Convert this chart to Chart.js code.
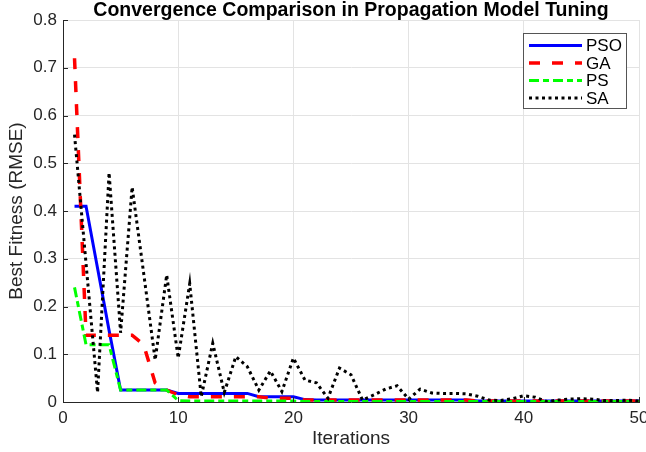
<!DOCTYPE html>
<html>
<head>
<meta charset="utf-8">
<title>Convergence Comparison</title>
<script src="https://cdn.jsdelivr.net/npm/chart.js@4.4.1/dist/chart.umd.min.js"></script>
<style>
  html, body { margin: 0; padding: 0; background: #fff; overflow: hidden; }
  #wrap { width: 660px; height: 452px; }
</style>
</head>
<body>
<div id="wrap"><canvas id="convChart" width="660" height="452"></canvas></div>
<script>
// iteration index (x axis)
const iterations = [
  1, 2, 3, 4, 5, 6, 7, 8, 9, 10,
  11, 12, 13, 14, 15, 16, 17, 18, 19, 20,
  21, 22, 23, 24, 25, 26, 27, 28, 29, 30,
  31, 32, 33, 34, 35, 36, 37, 38, 39, 40,
  41, 42, 43, 44, 45, 46, 47, 48, 49, 50
];

// best RMSE per iteration for each optimiser
const psoFitness = [
  0.41, 0.41, 0.28, 0.15, 0.025, 0.025, 0.025, 0.025, 0.025, 0.018,
  0.018, 0.018, 0.018, 0.018, 0.018, 0.018, 0.011, 0.011, 0.011, 0.011,
  0.005, 0.004, 0.004, 0.004, 0.004, 0.004, 0.004, 0.004, 0.004, 0.004,
  0.004, 0.004, 0.004, 0.004, 0.004, 0.002, 0.002, 0.002, 0.002, 0.002,
  0.002, 0.002, 0.002, 0.002, 0.002, 0.002, 0.002, 0.002, 0.002, 0.002
];
const gaFitness = [
  0.72, 0.14, 0.14, 0.14, 0.14, 0.14, 0.12, 0.04, 0.025, 0.015,
  0.011, 0.011, 0.011, 0.011, 0.011, 0.011, 0.011, 0.008, 0.008, 0.008,
  0.004, 0.004, 0.004, 0.004, 0.004, 0.004, 0.004, 0.004, 0.004, 0.004,
  0.004, 0.004, 0.004, 0.004, 0.004, 0.002, 0.002, 0.002, 0.002, 0.002,
  0.002, 0.002, 0.002, 0.002, 0.002, 0.002, 0.002, 0.002, 0.002, 0.002
];
const psFitness = [
  0.24, 0.12, 0.12, 0.12, 0.025, 0.025, 0.025, 0.025, 0.025, 0.003,
  0.002, 0.002, 0.002, 0.002, 0.002, 0.002, 0.002, 0.002, 0.002, 0.002,
  0.001, 0.001, 0.001, 0.001, 0.001, 0.001, 0.001, 0.001, 0.001, 0.001,
  0.001, 0.001, 0.001, 0.001, 0.001, 0.001, 0.001, 0.001, 0.001, 0.001,
  0.001, 0.001, 0.001, 0.001, 0.001, 0.001, 0.001, 0.001, 0.001, 0.001
];
const saFitness = [
  0.56, 0.29, 0.02, 0.48, 0.145, 0.45, 0.27, 0.088, 0.266, 0.092,
  0.248, 0.011, 0.123, 0.02, 0.095, 0.074, 0.025, 0.065, 0.022, 0.092,
  0.046, 0.04, 0.008, 0.071, 0.057, 0.004, 0.015, 0.027, 0.034, 0.006,
  0.027, 0.019, 0.018, 0.018, 0.017, 0.012, 0.004, 0.003, 0.007, 0.013,
  0.01, 0.001, 0.004, 0.006, 0.007, 0.006, 0.003, 0.003, 0.004, 0.002
];

const xTicks = [0, 10, 20, 30, 40, 50];
const yTicks = [0, 0.1, 0.2, 0.3, 0.4, 0.5, 0.6, 0.7, 0.8];
const chartTitle = 'Convergence Comparison in Propagation Model Tuning';

const FONT = '"Liberation Sans", Arial, Helvetica, sans-serif';

function toPoints(values) {
  return values.map((v, i) => ({ x: iterations[i], y: v }));
}

// title centred over the plot area rather than the whole canvas
const areaTitle = {
  id: 'areaTitle',
  afterDraw(chart) {
    const ctx = chart.ctx;
    const area = chart.chartArea;
    ctx.save();
    ctx.font = 'bold 19.5px ' + FONT;
    ctx.fillStyle = '#000';
    ctx.textAlign = 'center';
    ctx.textBaseline = 'middle';
    ctx.fillText(chartTitle, (area.left + area.right) / 2, area.top - 9);
    ctx.restore();
  }
};

// MATLAB-style legend box inside the top right corner
const boxLegend = {
  id: 'boxLegend',
  afterDraw(chart) {
    const ctx = chart.ctx;
    const area = chart.chartArea;
    const w = 103, h = 75;
    const x0 = area.right - 116, y0 = area.top + 13;
    ctx.save();
    ctx.fillStyle = '#fff';
    ctx.fillRect(x0, y0, w, h);
    ctx.strokeStyle = '#555';
    ctx.lineWidth = 1;
    ctx.setLineDash([]);
    ctx.strokeRect(x0 + 0.5, y0 + 0.5, w, h);
    ctx.font = '17px ' + FONT;
    ctx.textBaseline = 'middle';
    chart.data.datasets.forEach((ds, i) => {
      const y = y0 + 12.5 + i * 17.5;
      ctx.strokeStyle = ds.borderColor;
      ctx.lineWidth = ds.borderWidth;
      ctx.lineCap = 'butt';
      ctx.setLineDash(ds.borderDash || []);
      ctx.beginPath();
      ctx.moveTo(x0 + 6, y);
      ctx.lineTo(x0 + 59, y);
      ctx.stroke();
      ctx.setLineDash([]);
      ctx.fillStyle = '#000';
      ctx.fillText(ds.label, x0 + 63, y + 1);
    });
    ctx.restore();
  }
};

// short inward tick marks on the left and bottom axes
const innerTicks = {
  id: 'innerTicks',
  afterDraw(chart) {
    const ctx = chart.ctx;
    const area = chart.chartArea;
    const xs = chart.scales.x, ys = chart.scales.y;
    ctx.save();
    ctx.strokeStyle = '#262626';
    ctx.lineWidth = 1;
    ctx.beginPath();
    yTicks.forEach(v => {
      const py = Math.round(ys.getPixelForValue(v)) + 0.5;
      ctx.moveTo(area.left, py);
      ctx.lineTo(area.left + 5, py);
    });
    xTicks.forEach(v => {
      const px = Math.round(xs.getPixelForValue(v)) + 0.5;
      ctx.moveTo(px, area.bottom);
      ctx.lineTo(px, area.bottom - 5);
    });
    ctx.stroke();
    ctx.restore();
  }
};

new Chart(document.getElementById('convChart'), {
  type: 'line',
  data: {
    datasets: [
      {
        label: 'PSO',
        data: toPoints(psoFitness),
        borderColor: '#0000ff',
        borderWidth: 3,
        order: 3
      },
      {
        label: 'GA',
        data: toPoints(gaFitness),
        borderColor: '#ff0000',
        borderWidth: 3.5,
        borderDash: [11, 12],
        order: 2
      },
      {
        label: 'PS',
        data: toPoints(psFitness),
        borderColor: '#00ff00',
        borderWidth: 3,
        borderDash: [10, 4, 6, 4],
        order: 1
      },
      {
        label: 'SA',
        data: toPoints(saFitness),
        borderColor: '#000000',
        borderWidth: 3,
        borderDash: [3, 3.5],
        order: 0
      }
    ]
  },
  options: {
    responsive: false,
    animation: false,
    devicePixelRatio: 1,
    elements: {
      point: { radius: 0, hoverRadius: 0 },
      line: { tension: 0, fill: false, borderJoinStyle: 'miter' }
    },
    layout: { padding: { top: 20, right: 21, bottom: 0, left: 0 } },
    plugins: {
      legend: { display: false },
      tooltip: { enabled: false },
      title: { display: false }
    },
    scales: {
      x: {
        type: 'linear',
        min: 0,
        max: 50,
        afterFit(scale) { scale.height = 50; },
        afterBuildTicks(scale) { scale.ticks = xTicks.map(v => ({ value: v })); },
        ticks: {
          color: '#262626',
          padding: 6,
          maxRotation: 0,
          font: { family: FONT, size: 17 }
        },
        grid: { color: '#e3e3e3', drawTicks: false },
        border: { display: true, color: '#262626', width: 1 },
        title: {
          display: true,
          text: 'Iterations',
          color: '#262626',
          font: { family: FONT, size: 19 },
          padding: { top: 0, bottom: 1.5 }
        }
      },
      y: {
        type: 'linear',
        min: 0,
        max: 0.8,
        afterFit(scale) { scale.width = 63; },
        afterBuildTicks(scale) { scale.ticks = yTicks.map(v => ({ value: v })); },
        ticks: {
          color: '#262626',
          padding: 6,
          font: { family: FONT, size: 17 },
          callback: v => String(+v.toFixed(1))
        },
        grid: { color: '#e3e3e3', drawTicks: false },
        border: { display: true, color: '#262626', width: 1 },
        title: {
          display: true,
          text: 'Best Fitness (RMSE)',
          color: '#262626',
          font: { family: FONT, size: 19 },
          padding: { top: 5.5, bottom: 0 }
        }
      }
    }
  },
  plugins: [areaTitle, boxLegend, innerTicks]
});
</script>
</body>
</html>
